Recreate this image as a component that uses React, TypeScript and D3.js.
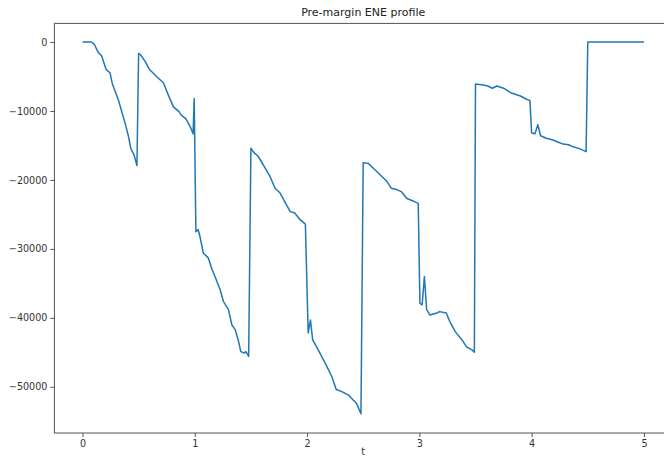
import React, { useEffect, useRef } from 'react';
import * as d3 from 'd3';

// t values (x axis) and pre-margin ENE values
const times = [
  0, 0.08, 0.105, 0.14, 0.17, 0.21, 0.245, 0.265, 0.32, 0.38, 0.41, 0.43, 0.46, 0.485,
  0.5, 0.52, 0.565, 0.595, 0.66, 0.72, 0.765, 0.81, 0.86, 0.88, 0.92, 0.96, 0.985, 0.995,
  1.01, 1.03, 1.046, 1.076, 1.12, 1.15, 1.18, 1.225, 1.255, 1.3, 1.33, 1.36, 1.39, 1.41, 1.44, 1.455, 1.48,
  1.5, 1.52, 1.565, 1.61, 1.67, 1.715, 1.76, 1.8, 1.85, 1.89, 1.94, 1.985,
  2.01, 2.03, 2.05, 2.085, 2.13, 2.175, 2.22, 2.26, 2.31, 2.37, 2.41, 2.44, 2.48,
  2.5, 2.545, 2.59, 2.635, 2.71, 2.75, 2.8, 2.84, 2.89, 2.95, 2.99,
  3.005, 3.025, 3.045, 3.065, 3.095, 3.155, 3.18, 3.24, 3.27, 3.32, 3.38, 3.42, 3.465, 3.49,
  3.5, 3.57, 3.61, 3.65, 3.69, 3.75, 3.82, 3.9, 3.955, 3.985,
  4.0, 4.03, 4.055, 4.08, 4.13, 4.19, 4.25, 4.28, 4.33, 4.37, 4.43, 4.485,
  4.5, 5.0,
];

const ene = [
  0, 0, -330, -1500, -2000, -3960, -4450, -6000, -8400, -11800, -13700, -15400, -16400, -17900,
  -1650, -1900, -3000, -3960, -5000, -5900, -7700, -9400, -10100, -10600, -11100, -12300, -13300, -8200,
  -27500, -27200, -28200, -30600, -31300, -32800, -34000, -35900, -37600, -38800, -41000, -41700, -43400, -44900, -45100, -44900, -45600,
  -15400, -15900, -16600, -17800, -19500, -21200, -21900, -23100, -24600, -24800, -25800, -26400,
  -42200, -40300, -43200, -44200, -45600, -47000, -48500, -50400, -50700, -51200, -51900, -52400, -53900,
  -17500, -17600, -18300, -19000, -20200, -21200, -21400, -21700, -22700, -23100, -23400,
  -37900, -38100, -34000, -38800, -39600, -39300, -39100, -39300, -40500, -42000, -43200, -44200, -44600, -45000,
  -6100, -6230, -6380, -6700, -6380, -6700, -7400, -7830, -8300, -8500,
  -13200, -13300, -12000, -13600, -13960, -14200, -14600, -14800, -14900, -15200, -15500, -15900,
  0, 0,
];

const xTicks = [0, 1, 2, 3, 4, 5];
const yTicks = [0, -10000, -20000, -30000, -40000, -50000];

const EneProfile = ({ width = 664, height = 459 }) => {
  const svgRef = useRef<SVGSVGElement>(null);

  useEffect(() => {
    const svg = d3.select(svgRef.current);
    svg.selectAll('*').remove();

    // axes box: right edge falls outside the picture (cropped like the original)
    const left = 54.4, right = 672, top = 23.4, bottom = 433;
    const font = 'DejaVu Sans, sans-serif';

    const x = d3.scaleLinear().domain([-0.25, 5.25]).range([left, right]);
    const y = d3.scaleLinear().domain([-56700, 2700]).range([bottom, top]);

    const data = times.map((t, i) => ({ t, v: ene[i] }));

    const line = d3.line<{ t: number; v: number }>()
      .x(d => x(d.t))
      .y(d => y(d.v));

    svg.append('path')
      .datum(data)
      .attr('d', line)
      .attr('fill', 'none')
      .attr('stroke', '#1f77b4')
      .attr('stroke-width', 1.5)
      .attr('stroke-linejoin', 'round');

    // spines
    svg.append('rect')
      .attr('x', left)
      .attr('y', top)
      .attr('width', right - left)
      .attr('height', bottom - top)
      .attr('fill', 'none')
      .attr('stroke', '#555')
      .attr('stroke-width', 1);

    const fmt = (d: number) => (d < 0 ? '\u2212' + Math.abs(d) : String(d));

    const xAxis = svg.append('g')
      .attr('transform', `translate(0,${bottom})`)
      .call(d3.axisBottom(x).tickValues(xTicks).tickSize(4).tickPadding(3).tickFormat(d => String(d)));
    xAxis.select('.domain').remove();

    const yAxis = svg.append('g')
      .attr('transform', `translate(${left},0)`)
      .call(d3.axisLeft(y).tickValues(yTicks).tickSize(4).tickPadding(3).tickFormat(d => fmt(d as number)));
    yAxis.select('.domain').remove();

    svg.selectAll('.tick line').attr('stroke', '#555');
    svg.selectAll('.tick text')
      .attr('fill', '#333')
      .style('font-family', font)
      .style('font-size', '9.6px');

    svg.append('text')
      .attr('x', (left + right) / 2)
      .attr('y', 455)
      .attr('text-anchor', 'middle')
      .attr('fill', '#333')
      .style('font-family', font)
      .style('font-size', '9.6px')
      .text('t');

    svg.append('text')
      .attr('x', (left + right) / 2)
      .attr('y', 16)
      .attr('text-anchor', 'middle')
      .attr('fill', '#222')
      .style('font-family', font)
      .style('font-size', '11px')
      .text('Pre-margin ENE profile');
  }, [width, height]);

  return (
    <svg
      ref={svgRef}
      width={width}
      height={height}
      style={{ position: 'absolute', left: 0, top: 0, overflow: 'hidden', background: '#fff' }}
    />
  );
};

export default function App() {
  return <EneProfile />;
}
